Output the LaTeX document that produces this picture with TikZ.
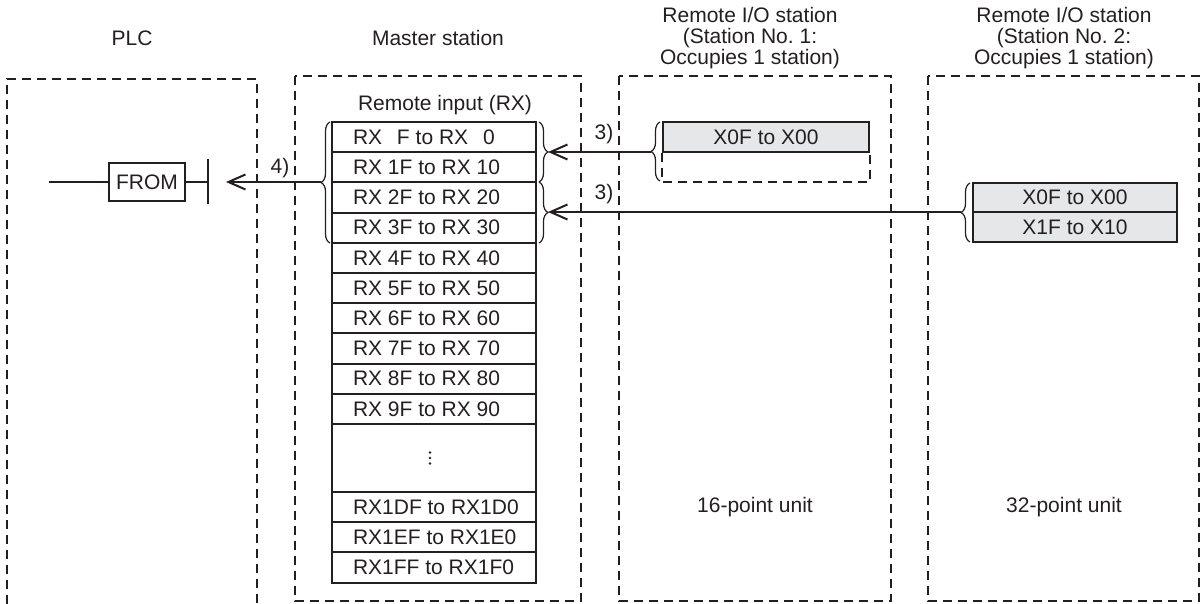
\documentclass[tikz,border=0pt]{standalone}
\usepackage{fontspec}
\setmainfont{Liberation Sans}
\usepackage{xcolor}
\usetikzlibrary{arrows.meta,decorations.pathreplacing}
\definecolor{ink}{RGB}{35,31,32}
\definecolor{cellgray}{RGB}{230,231,233}
\newcommand{\rxtext}[1]{\makebox[162pt][l]{#1}}

\begin{document}
\begin{tikzpicture}[x=1pt,y=-1pt,color=ink,font=\fontsize{21}{21}\selectfont,
  dashbox/.style={draw,dash pattern=on 9pt off 6pt,line width=2.3pt},
  cell/.style={draw,line width=2pt,inner xsep=21pt,inner ysep=0pt,minimum width=204pt,minimum height=30.2pt},
  xcell/.style={draw,line width=2pt,fill=cellgray,minimum width=204pt,minimum height=29.6pt,inner sep=0pt},
  brc/.style={line width=1.2pt,decorate,decoration={brace,amplitude=9pt}},
  arr/.style={line width=2pt,-{Straight Barb[length=17pt,width=15pt]}}]
\useasboundingbox (0,0) rectangle (1203,604);
% ---- TITLES ----
\node (plcttl) at (132,38) {PLC};
\node (mstttl) at (438,38) {Master station};
\node[align=center] (st1ttl) at (750,38) {Remote I/O station\\(Station No.~1:\\Occupies 1 station)};
\node[align=center] (st2ttl) at (1064,38) {Remote I/O station\\(Station No.~2:\\Occupies 1 station)};
% ---- FRAMES ----
\draw[dashbox] (7,604) -- (7,79) -- (257,79) -- (257,604);
\draw[dashbox] (295,76) rectangle (581,601);
\draw[dashbox] (619,76) rectangle (891,601);
\draw[dashbox] (928,76) rectangle (1199,601);
% ---- PLC ----
\node[draw,line width=2pt,minimum width=76pt,minimum height=38pt,inner sep=0pt] (from) at (147,182) {FROM};
\coordinate (rung) at (49,182);
\coordinate (bar) at (208,182);
\coordinate (fromin) at (226,182);
\draw[line width=2pt] (rung) -- (from) -- (bar);
\draw[line width=2pt] (bar) ++(0,-23) -- ++(0,45);
% ---- MASTER STATION ----
\node (rxttl) at (445,105) {Remote input (RX)};
\foreach \n [count=\i from 0] in {\hspace{9pt},1,2,3,4,5,6,7,8,9}
  \node[cell] (rx\i) at (434,{137.1+30.2*\i}) {\rxtext{RX \n F to RX \n 0}};
\node[draw,line width=2pt,minimum width=204pt,minimum height=68pt,inner sep=0pt] (rxdots) at (434,458) {};
\foreach \k in {-1,0,1}
  \fill ([xshift=-4pt,yshift=\k*5.5pt]rxdots.center) circle (1.3pt);
\foreach \n [count=\i from 0] in {D,E,F}
  \node[cell] (rxe\i) at (434,{507.1+30.2*\i}) {\rxtext{RX1\n F to RX1\n 0}};
\draw[brc] (330,243) -- (330,122);
\draw[brc] (539,122) -- (539,182);
\draw[brc] (539,182) -- (539,243);
\coordinate (mltip) at (321,182);
\coordinate (m1tip) at (548,152);
\coordinate (m2tip) at (548,212);
% ---- REMOTE I/O 1 ----
\node[xcell,minimum width=206pt] (s1x0) at (766,137) {X0F to X00};
\draw[dashbox,line width=2pt] (s1x0.south west) -- ++(0,29) -| (s1x0.south east);
\draw[brc] (660,181) -- (660,122);
\coordinate (s1tip) at (651,152);
\node (u16) at (755,507) {16-point unit};
% ---- REMOTE I/O 2 ----
\node[xcell] (s2x0) at (1075,197.5) {X0F to X00};
\node[xcell] (s2x1) at (1075,227.3) {X1F to X10};
\draw[brc] (970,242) -- (970,183);
\coordinate (s2tip) at (961,212);
\node (u32) at (1064,507) {32-point unit};
% ---- TRANSFERS ----
\draw[arr] (s1tip) -- (m1tip);
\draw[arr] (s2tip) -- (m2tip);
\draw[arr] (mltip) -- (fromin);
\node (lbl3a) at (604,134) {3)};
\node (lbl3b) at (604,194) {3)};
\node (lbl4) at (280,168) {4)};
\end{tikzpicture}
\end{document}
